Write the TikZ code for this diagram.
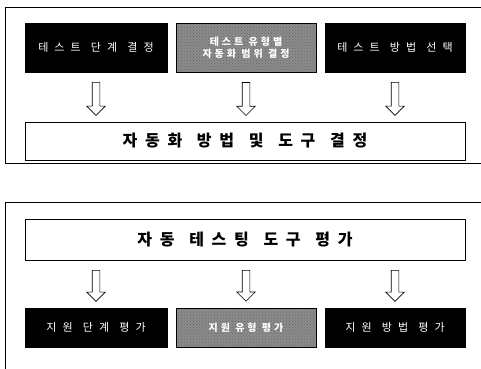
\documentclass[tikz,border=0pt]{standalone}
\usepackage{fontspec}
\newfontfamily\koboxfont[LetterSpace=55, WordSpace=1.2]{Noto Sans CJK KR}
\newfontfamily\kograyfont[LetterSpace=30]{Noto Sans CJK KR}
\newfontfamily\kowidefont[LetterSpace=48, WordSpace=1.3]{Noto Sans CJK KR}
\usetikzlibrary{positioning, calc, shapes.arrows, patterns}

\begin{document}
\begin{tikzpicture}[x=1pt, y=1pt, semithick,
        stagebox/.style={draw, fill=black, text=white, minimum height=49pt, inner sep=0pt,
            font=\koboxfont\fontsize{11}{12}\selectfont},
        graybox/.style={stagebox, fill=none, preaction={fill=black!45},
            pattern=crosshatch dots, pattern color=black!60, line width=1pt, align=center,
            font=\kograyfont\bfseries\fontsize{10}{12.5}\selectfont},
        widebox/.style={draw, fill=white, minimum width=440pt, minimum height=38pt, inner sep=0pt,
            font=\kowidefont\bfseries\fontsize{16}{18}\selectfont},
        blockarrow/.style={single arrow, draw, fill=white, rotate=-90, inner xsep=0pt,
            inner ysep=3.5pt, single arrow head extend=5.5pt, minimum height=33pt}]

    \useasboundingbox (0,0) rectangle (481,-368);

    % upper frame
    \draw (482,-7) -- (5,-7) -- (5,-163) -- (482,-163);

    \node[stagebox, minimum width=142pt] (t1) at (96,-47.5) {테스트 단계 결정};
    \node[graybox, minimum width=140pt] (t2) at (246,-47.5) {테스트 유형별\\자동화 범위 결정};
    \node[stagebox, minimum width=140pt] (t3) at (395,-47.5) {테스트 방법 선택};
    \node[widebox] (tw) at (245,-141) {자동화 방법 및 도구 결정};

    \foreach \n in {1,2,3}
        \node[blockarrow] (ta\n) at ($(t\n.south)!0.5!(t\n.south |- tw.north)$) {};

    % lower frame
    \draw (482,-202) -- (5,-202) -- (5,-369);

    \node[widebox, minimum height=41pt] (bw) at (245,-239.5) {자동 테스팅 도구 평가};
    \node[stagebox, minimum width=142pt, minimum height=39pt] (b1) at (96,-327.5) {지원 단계 평가};
    \node[graybox, minimum width=140pt, minimum height=39pt] (b2) at (246,-327.5) {지원 유형 평가};
    \node[stagebox, minimum width=140pt, minimum height=39pt] (b3) at (395,-327.5) {지원 방법 평가};

    \foreach \n in {1,2,3}
        \node[blockarrow, minimum height=31pt] (ba\n) at ($(b\n.north)!0.5!(b\n.north |- bw.south)$) {};

\end{tikzpicture}
\end{document}
